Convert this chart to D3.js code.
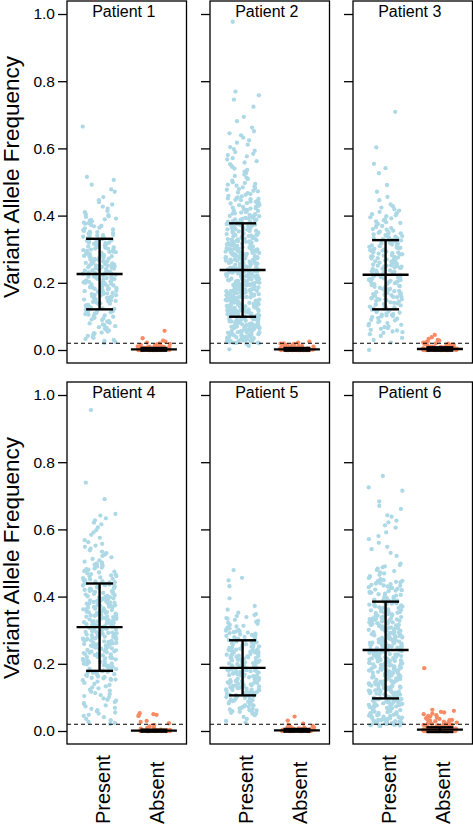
<!DOCTYPE html>
<html><head><meta charset="utf-8">
<script src="https://cdn.jsdelivr.net/npm/d3@7"></script>
<style>html,body{margin:0;padding:0;background:#fff;}svg{display:block;font-family:"Liberation Sans",Arial,Helvetica,sans-serif;}</style>
</head><body><svg id="chart" width="473" height="826"></svg>
<script>
const patients = ["Patient 1","Patient 2","Patient 3","Patient 4","Patient 5","Patient 6"];
const categories = ["Present","Absent"];
const yTickValues = [0,0.2,0.4,0.6,0.8,1.0];
const yTickLabels = ["0.0","0.2","0.4","0.6","0.8","1.0"];
const yLabel = "Variant Allele Frequency";
const threshold = 0.02;
// summary bars (mean ± sd)
const presentMean = [0.226,0.238,0.224,0.309,0.188,0.241];
const presentSD   = [0.105,0.139,0.103,0.130,0.082,0.144];
const absentMean  = [0.002,0.002,0.003,0.001,0.002,0.004];
const absentSD    = [0.004,0.004,0.005,0.003,0.004,0.007];
// variant allele frequency values, in thousandths
const present1 = [665,515,506,492,478,471,455,446,440,433,427,421,414,410,404,401,
398,396,391,389,387,384,383,379,377,376,372,369,368,364,362,359,357,354,352,351,
349,348,346,343,342,341,338,337,335,333,332,330,329,327,325,324,322,320,319,318,316,314,313,311,310,308,307,305,304,302,301,
299,298,297,295,293,292,291,289,287,286,285,283,282,280,279,278,276,275,273,272,271,269,268,267,265,264,263,261,260,259,258,256,255,254,253,252,251,251,250,
249,248,247,246,244,243,242,241,239,238,237,236,234,233,232,231,229,228,227,226,224,223,222,221,219,218,217,216,214,213,212,211,209,208,207,206,204,203,202,201,201,200,
199,197,196,195,193,192,191,189,188,187,186,184,183,182,180,179,178,176,175,174,172,171,170,168,167,166,164,163,162,160,159,158,156,155,154,152,151,150,
148,146,145,143,141,139,138,136,134,133,131,129,127,126,124,122,121,119,117,115,114,112,110,108,107,105,103,101,
99,96,94,91,89,86,84,81,79,76,74,71,68,66,63,60,58,55,52,50,48,45,42,39,36,33,30,27,24,21];
const present2 = [977,769,758,745,724,694,681,662,651,645,639,632,624,617,611,604,
598,593,589,584,580,576,571,567,562,558,553,549,545,540,536,531,527,522,518,513,509,504,
499,497,494,492,489,487,484,482,479,477,474,472,469,467,464,462,459,457,454,452,451,450,
449,447,446,444,442,441,439,437,436,434,432,431,429,427,426,424,422,421,419,417,416,414,412,411,409,407,406,404,402,401,
399,398,397,395,394,393,392,390,389,388,387,385,384,383,382,380,379,378,377,375,374,373,372,370,369,368,367,365,364,363,362,360,359,358,357,355,354,353,352,351,
349,348,348,346,345,344,343,342,341,340,339,338,336,335,334,333,332,331,330,329,328,327,326,325,324,323,322,321,320,319,318,317,316,315,314,313,312,311,310,309,308,307,306,305,304,303,302,301,300,300,
299,299,298,297,296,296,295,294,293,293,292,291,290,289,289,288,287,286,286,285,284,283,283,282,281,280,279,279,278,277,276,276,275,274,273,273,272,271,270,269,269,268,267,266,266,265,264,263,263,262,261,260,259,259,258,257,256,255,253,251,
249,249,248,247,247,246,245,244,244,243,242,241,241,240,239,238,238,237,236,235,235,234,233,232,232,231,230,229,229,228,227,226,226,225,224,223,223,222,221,220,220,219,218,217,217,216,215,214,214,213,212,211,211,210,209,208,208,207,206,205,204,203,202,201,200,
199,199,198,197,196,196,195,194,193,193,192,191,190,190,189,188,187,187,186,185,184,184,183,182,181,181,180,179,178,178,177,176,175,175,174,173,172,172,171,170,169,169,168,167,166,166,165,164,163,163,162,161,160,160,159,158,157,157,156,155,154,153,152,151,150,
149,149,148,147,147,146,145,144,144,143,142,141,141,140,139,138,138,137,136,135,135,134,133,132,132,131,130,129,129,128,127,126,126,125,124,123,123,122,121,120,120,119,118,117,117,116,115,114,114,113,112,111,111,110,109,108,108,107,106,105,105,104,103,102,102,101,100,100,
99,98,97,97,96,95,94,93,93,92,91,90,89,89,88,87,86,85,85,84,83,82,81,81,80,79,78,77,77,76,75,74,73,73,72,71,70,69,69,68,67,66,65,65,64,63,62,61,61,60,59,58,57,57,56,55,54,53,53,52,51,50,
49,48,47,46,45,44,44,43,42,41,40,39,38,38,37,36,35,34,33,32,32,31,30,29,28,27,26,26,25,24,23,22,21,21,20,18,12,2];
const present3 = [709,603,554,541,526,491,471,456,446,433,428,424,419,415,411,407,404,401,
398,395,392,389,386,383,380,378,375,372,369,366,363,360,358,355,352,351,
349,347,346,344,342,340,339,337,335,333,332,330,328,326,325,323,321,319,318,316,314,312,311,309,307,305,304,302,301,300,
299,297,296,294,293,291,290,288,287,285,284,282,281,279,278,276,275,273,272,270,269,267,266,264,263,261,260,258,257,255,254,252,251,251,250,
249,248,246,245,244,242,241,240,238,237,236,234,233,232,230,229,228,226,225,224,222,221,220,218,217,216,214,213,212,210,209,208,206,205,204,202,201,200,
199,197,196,194,193,191,190,188,187,185,184,182,181,179,178,176,175,173,172,170,169,167,166,164,163,161,160,158,157,155,154,152,151,150,150,
148,146,144,142,140,139,137,135,133,131,129,127,126,124,122,120,118,116,114,113,111,109,107,105,104,103,101,100,
98,95,93,90,88,85,83,80,78,75,73,70,68,65,63,60,58,55,53,51,47,42,36,30,22,0];
const present4 = [955,739,690,646,641,633,627,620,615,606,598,591,584,575,
568,562,557,552,548,543,538,534,529,525,521,517,512,508,504,501,
499,497,495,493,491,489,486,484,482,480,478,476,474,472,469,467,465,463,461,459,457,455,453,451,
449,448,446,445,443,442,440,439,437,436,434,433,431,430,428,427,425,424,422,420,419,417,416,414,413,411,410,408,406,404,402,401,
399,398,397,395,394,393,392,390,389,388,387,385,384,383,382,380,379,378,377,375,374,373,372,370,369,368,367,365,364,363,362,360,359,358,357,355,354,353,352,351,
349,348,347,346,345,344,343,342,341,340,339,338,337,336,335,334,333,332,331,330,329,328,327,326,325,324,322,321,320,319,318,317,316,315,314,313,312,311,310,309,307,305,304,302,301,
299,298,297,295,294,293,292,291,289,288,287,286,285,283,282,281,280,279,277,276,275,274,273,271,270,269,268,267,265,264,263,262,261,259,258,257,256,255,254,253,252,250,
249,248,246,245,244,242,241,240,238,237,236,234,233,232,230,229,228,226,225,224,222,221,220,218,217,216,214,213,212,210,209,208,206,205,204,202,201,200,
198,196,194,193,191,189,187,185,184,182,180,178,176,175,173,171,169,167,166,164,162,160,158,157,155,153,152,151,
147,143,140,137,133,130,127,123,120,117,113,110,107,104,101,97,93,90,86,83,80,76,73,69,66,62,59,55,52,48,45,41,36,32,27,24,21];
const present5 = [479,456,448,431,395,372,361,352,
348,345,342,339,336,334,331,328,325,322,319,316,313,311,308,305,303,301,
299,297,296,294,293,291,290,288,286,285,283,282,280,279,277,275,274,272,271,269,268,266,264,263,261,260,258,257,255,254,252,251,
249,248,247,246,245,243,242,241,240,239,237,236,235,234,233,231,230,229,228,227,225,224,223,222,221,219,218,217,216,215,213,212,211,210,209,207,206,205,204,203,202,201,
199,198,197,196,195,194,193,191,190,189,188,187,186,185,184,183,182,181,180,179,178,177,176,175,174,172,171,170,169,168,167,166,165,164,163,162,161,160,158,157,156,155,154,152,151,
149,148,147,146,145,144,143,142,141,140,139,138,137,136,135,134,133,132,131,130,129,128,127,126,125,124,123,122,121,119,118,117,116,115,114,113,112,111,110,108,107,106,104,103,101,
99,97,96,94,92,91,89,87,86,84,82,81,79,77,76,74,72,71,69,67,66,64,62,61,59,57,56,54,52,51,47,42,36,30,25];
const present6 = [759,725,715,683,670,661,642,638,626,621,612,605,591,580,571,560,548,541,530,521,
498,494,490,487,483,479,476,472,469,465,461,458,455,452,
449,447,446,444,442,440,439,437,435,433,432,430,428,426,425,423,421,419,418,416,414,412,411,409,407,405,403,401,
399,398,396,395,394,392,391,390,388,387,386,384,383,382,380,379,378,376,375,374,372,371,370,368,367,366,364,363,362,360,359,358,356,355,354,353,352,351,
349,348,347,346,345,344,343,341,340,339,338,337,336,335,334,333,332,331,329,328,327,326,325,324,323,322,321,320,319,317,316,315,314,313,312,311,310,309,308,307,305,304,303,302,301,
299,298,297,296,295,294,293,292,291,290,289,288,287,286,285,284,283,282,281,280,279,278,277,276,275,274,273,272,271,270,269,268,267,266,265,264,263,262,261,260,259,258,257,256,255,254,253,252,251,250,
249,248,247,246,245,244,243,242,241,240,240,239,238,237,236,235,234,233,232,231,230,229,228,227,226,225,224,223,222,221,220,219,218,217,216,215,214,213,212,211,210,210,209,208,207,206,205,204,203,202,201,200,
199,198,197,196,195,195,194,193,192,191,190,189,188,187,186,185,185,184,183,182,181,180,179,178,177,176,175,175,174,173,172,171,170,169,168,167,166,165,165,164,163,162,161,160,159,158,157,156,155,155,154,153,152,151,150,
149,148,147,146,145,144,143,142,141,140,140,139,138,137,136,135,134,133,132,131,130,129,128,127,126,125,124,123,122,121,120,119,118,117,116,115,114,113,112,111,110,110,109,108,107,106,105,104,103,102,101,100,
99,98,97,96,95,94,93,92,91,90,89,88,87,86,85,84,83,82,81,80,79,78,77,76,75,74,73,72,71,70,69,68,67,66,65,64,63,62,61,60,59,58,57,56,55,54,53,52,51,50,
49,48,47,46,45,44,43,42,41,40,39,38,37,36,35,34,33,32,31,30,30,29,28,27,26,25,24,24,23,22,21,20,20,19,18,17,17,16,15,15];
const absent1 = [57,35,28,25,22,20,18,17,15,14,13,12,11,10,10,9,9,8,8,7,7,6,6,6,5,5,5,4,4,4,4,3,3,3,3,3,2,2,2,2,2,2,1,1,1,1,1,1,1,0,0,0,0,0,0,0,0,0,0,0,0,0,0,0,0];
const absent2 = [25,22,20,19,18,17,16,15,14,13,12,12,11,10,10,9,9,8,8,7,7,6,6,6,5,5,5,4,4,4,4,3,3,3,3,3,2,2,2,2,2,2,1,1,1,1,1,1,1,0,0,0,0,0,0,0,0,0,0,0,0,0,0,0,0,0,0,0,0,0];
const absent3 = [45,38,33,30,28,25,23,22,20,19,18,17,16,15,14,13,12,11,10,10,9,9,8,8,7,7,6,6,6,5,5,5,4,4,4,4,3,3,3,3,3,2,2,2,2,2,2,1,1,1,1,1,1,1,0,0,0,0,0,0,0,0,0,0,0,0,0,0];
const absent4 = [53,50,48,46,45,30,27,23,18,14,11,9,7,5,4,3,3,2,2,2,1,1,1,1,0,0,0,0,0,0,0,0,0,0,0,0];
const absent5 = [43,31,22,18,15,13,11,10,9,8,7,6,6,5,5,4,4,3,3,3,2,2,2,2,1,1,1,1,1,0,0,0,0,0,0,0,0,0,0,0,0,0,0];
const absent6 = [187,63,60,57,55,52,50,47,45,43,42,40,38,36,35,33,32,30,29,28,27,26,25,24,23,22,21,20,19,18,17,16,15,14,13,12,12,11,11,10,10,9,9,8,8,7,7,6,6,6,5,5,5,4,4,4,4,3,3,3,3,3,2,2,2,2,2,2,1,1,1,1,1,1,1,0,0,0,0,0,0,0,0,0,0,0,0,0,0,0,0,0,0];
const presentData = [present1,present2,present3,present4,present5,present6];
const absentData  = [absent1,absent2,absent3,absent4,absent5,absent6];

const colors = {Present:"#add8e6", Absent:"#f98a64"};
const svg = d3.select("#chart");
const colX = [67,210,353], panelW = 119.5;
const rowY = [1,382], panelH = 362;
const jitterHalf = 17;

function jit(i, seed){
  let h = ((i+1)*374761393 + seed*668265263) | 0;
  h = Math.imul(h ^ (h>>>13), 1274126177);
  h ^= h>>>16;
  h = Math.imul(h ^ (h>>>15), 2246822519);
  h ^= h>>>13;
  return (h>>>0)/4294967296;
}

patients.forEach((name, p) => {
  const row = Math.floor(p/3), col = p%3;
  const left = colX[col], top = rowY[row];
  const y = d3.scaleLinear().domain([-0.0387,1.0387]).range([top+panelH, top]);
  const x = d3.scalePoint().domain(categories).range([left, left+panelW]).padding(0.6);
  const g = svg.append("g");

  // axis
  const ax = g.append("g").attr("transform",`translate(${left},0)`)
    .call(d3.axisLeft(y).tickValues(yTickValues).tickSize(9).tickPadding(3)
      .tickFormat((d,i)=> col===0 ? yTickLabels[i] : ""));
  ax.select(".domain").remove();
  ax.selectAll(".tick line").attr("stroke","#000").attr("stroke-width",1.3);
  ax.selectAll(".tick text").attr("fill","#000").style("font-size","15.5px")
    .style("font-family",'"Liberation Sans",Arial,sans-serif');

  // points
  const groups = [["Present", presentData[p]], ["Absent", absentData[p]]];
  groups.forEach(([cat, vals], k) => {
    g.append("g").selectAll("circle").data(vals).join("circle")
      .attr("cx", (d,i)=> x(cat) + (jit(i, p*2+k+1) - 0.5)*2*jitterHalf)
      .attr("cy", d => y(d/1000))
      .attr("r", 2.15)
      .attr("fill", colors[cat]);
  });

  // threshold line
  g.append("line").attr("x1",left).attr("x2",left+panelW)
    .attr("y1",y(threshold)).attr("y2",y(threshold))
    .attr("stroke","#000").attr("stroke-width",1.1).attr("stroke-dasharray","4,3");

  // mean ± sd bars
  const stats = [["Present",presentMean[p],presentSD[p]],["Absent",absentMean[p],absentSD[p]]];
  stats.forEach(([cat,m,s]) => {
    const cx = x(cat);
    const bg = g.append("g").attr("stroke","#000").attr("stroke-width",2.4);
    bg.append("line").attr("x1",cx).attr("x2",cx).attr("y1",y(m-s)).attr("y2",y(m+s));
    bg.append("line").attr("x1",cx-23).attr("x2",cx+23).attr("y1",y(m)).attr("y2",y(m));
    [m-s,m+s].forEach(v => bg.append("line").attr("x1",cx-13.5).attr("x2",cx+13.5).attr("y1",y(v)).attr("y2",y(v)));
  });

  // frame
  g.append("rect").attr("x",left).attr("y",top).attr("width",panelW).attr("height",panelH)
    .attr("fill","none").attr("stroke","#000").attr("stroke-width",1.3);

  // title
  g.append("text").attr("x", left+panelW/2-3).attr("y", top+16)
    .attr("text-anchor","middle").style("font-size","16px").text(name);

  // category labels
  if (row === 1) {
    categories.forEach(cat => {
      g.append("text").attr("transform",`translate(${x(cat)+10},824) rotate(-90)`)
        .attr("text-anchor","start").style("font-size","20px").text(cat);
    });
  }
  // y label
  if (col === 0) {
    svg.append("text").attr("transform",`translate(18.5,${top+176}) rotate(-90)`)
      .attr("text-anchor","middle").style("font-size","22.5px").text(yLabel);
  }
});
</script></body></html>
